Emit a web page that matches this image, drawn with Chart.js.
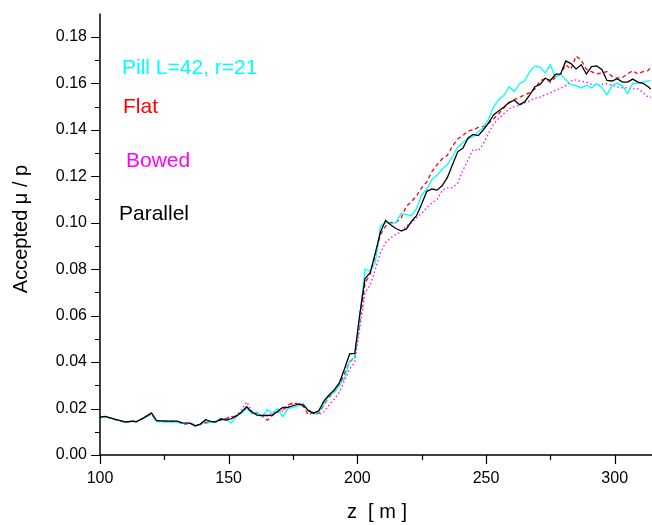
<!DOCTYPE html>
<html>
<head>
<meta charset="utf-8">
<script src="https://cdn.jsdelivr.net/npm/chart.js@4.4.1/dist/chart.umd.min.js"></script>
<style>
  html, body { margin: 0; padding: 0; background: #fff; }
  #wrap { width: 652px; height: 525px; }
</style>
</head>
<body>
<div id="wrap"><canvas id="chart"></canvas></div>
<script>
// z positions [m] shared by all four series
const zPos = [
  100, 102, 106, 110, 113, 114, 117, 120, 122, 126, 130, 132, 135, 137, 139, 141, 143, 145, 147, 149,
  151, 153, 155, 157, 159, 161, 163, 165, 167, 169, 171, 173, 175, 177, 179, 181, 183, 185, 187, 189,
  191, 193, 195, 197, 199, 201, 203, 205, 207, 209, 211, 213, 215, 217, 219, 221, 223, 225, 227, 229,
  231, 233, 235, 237, 239, 241, 243, 245, 247, 249, 251, 253, 255, 257, 259, 261, 263, 265, 267, 269,
  271, 273, 275, 277, 279, 281, 283, 285, 287, 289, 291, 293, 295, 297, 299, 301, 303, 305, 307, 309,
  311, 313, 314
];

const parallel = [
  .0163, .0166, .0153, .0142, .0146, .0143, .0160, .0181, .0148, .0146, .0146, .0138, .0137, .0125, .0133, .0152, .0145, .0142, .0155, .0150,
  .0156, .0168, .0185, .0208, .0185, .0172, .0170, .0170, .0172, .0188, .0205, .0205, .0212, .0219, .0215, .0191, .0180, .0190, .0232, .0258,
  .0280, .0310, .0370, .0435, .0437, .0610, .0760, .0785, .0870, .0960, .1010, .0990, .0975, .0965, .0972, .1005, .1030, .1080, .1135, .1145,
  .1140, .1160, .1195, .1250, .1305, .1320, .1365, .1380, .1375, .1400, .1430, .1465, .1482, .1498, .1518, .1527, .1508, .1520, .1550, .1585,
  .1595, .1622, .1612, .1638, .1640, .1696, .1685, .1662, .1680, .1640, .1672, .1675, .1660, .1612, .1610, .1620, .1605, .1605, .1618, .1605,
  .1600, .1585, .1575
];

const pill = [
  .0163, .0165, .0152, .0142, .0146, .0142, .0158, .0178, .0144, .0142, .0142, .0136, .0136, .0127, .0130, .0146, .0140, .0145, .0158, .0152,
  .0138, .0165, .0180, .0200, .0178, .0185, .0165, .0195, .0180, .0200, .0165, .0200, .0205, .0210, .0222, .0190, .0176, .0185, .0220, .0255,
  .0270, .0300, .0330, .0405, .0420, .0600, .0800, .0790, .0830, .0985, .1000, .0995, .1000, .1040, .1035, .1030, .1060, .1120, .1145, .1185,
  .1205, .1230, .1250, .1285, .1325, .1345, .1360, .1370, .1390, .1410, .1445, .1500, .1530, .1548, .1585, .1565, .1598, .1610, .1650, .1675,
  .1670, .1645, .1680, .1626, .1640, .1615, .1595, .1590, .1580, .1592, .1580, .1600, .1582, .1550, .1590, .1600, .1590, .1555, .1600, .1600,
  .1605, .1610, .1610
];

const flat = [
  .0163, .0165, .0152, .0141, .0147, .0143, .0160, .0176, .0146, .0145, .0145, .0133, .0135, .0130, .0132, .0138, .0140, .0145, .0150, .0158,
  .0160, .0170, .0180, .0205, .0180, .0180, .0168, .0150, .0170, .0185, .0195, .0215, .0225, .0218, .0210, .0172, .0185, .0180, .0215, .0250,
  .0270, .0300, .0350, .0400, .0420, .0580, .0740, .0780, .0860, .0950, .0985, .1000, .1000, .1020, .1070, .1090, .1115, .1150, .1176, .1220,
  .1250, .1275, .1290, .1330, .1360, .1375, .1395, .1400, .1410, .1415, .1428, .1447, .1470, .1495, .1515, .1530, .1540, .1550, .1560, .1575,
  .1610, .1620, .1605, .1626, .1640, .1680, .1660, .1717, .1700, .1660, .1650, .1640, .1645, .1650, .1630, .1622, .1625, .1640, .1654, .1640,
  .1650, .1655, .1668
];

const bowed = [
  .0163, .0165, .0153, .0142, .0146, .0143, .0158, .0178, .0146, .0145, .0145, .0137, .0136, .0128, .0131, .0140, .0143, .0144, .0152, .0160,
  .0165, .0170, .0195, .0228, .0190, .0175, .0170, .0172, .0178, .0185, .0190, .0205, .0220, .0225, .0215, .0195, .0180, .0175, .0185, .0215,
  .0240, .0270, .0320, .0370, .0400, .0550, .0700, .0730, .0800, .0870, .0915, .0935, .0950, .0960, .0985, .1000, .1020, .1040, .1065, .1085,
  .1100, .1140, .1150, .1150, .1170, .1225, .1270, .1316, .1310, .1340, .1385, .1425, .1450, .1470, .1490, .1500, .1505, .1515, .1525, .1535,
  .1540, .1550, .1560, .1570, .1578, .1590, .1610, .1615, .1608, .1605, .1595, .1590, .1595, .1598, .1592, .1585, .1580, .1580, .1576, .1576,
  .1560, .1540, .1540
];

const yTicksMajor = [0, 0.02, 0.04, 0.06, 0.08, 0.10, 0.12, 0.14, 0.16, 0.18];
const yTicksMinor = [0.01, 0.03, 0.05, 0.07, 0.09, 0.11, 0.13, 0.15, 0.17];
const xTicksMajor = [100, 150, 200, 250, 300];
const xTicksMinor = [125, 175, 225, 275];

const FONT = "'Liberation Sans', Arial, sans-serif";

function toPoints(values) {
  return values.map((v, i) => ({ x: zPos[i], y: v }));
}

// axis lines, tick marks, curve labels and axis titles
const decor = {
  id: "decor",
  afterDraw(chart) {
    const { ctx, chartArea: a, scales } = chart;
    const xs = scales.x, ys = scales.y;
    ctx.save();
    ctx.strokeStyle = "#000";
    ctx.lineWidth = 1.5;
    ctx.beginPath();
    ctx.moveTo(a.left, a.top);
    ctx.lineTo(a.left, a.bottom);
    ctx.lineTo(a.right, a.bottom);
    ctx.stroke();

    ctx.lineWidth = 1.2;
    ctx.beginPath();
    yTicksMajor.forEach((v) => {
      const y = Math.round(ys.getPixelForValue(v)) + 0.5;
      ctx.moveTo(a.left, y); ctx.lineTo(a.left - 9, y);
    });
    yTicksMinor.forEach((v) => {
      const y = Math.round(ys.getPixelForValue(v)) + 0.5;
      ctx.moveTo(a.left, y); ctx.lineTo(a.left - 5, y);
    });
    xTicksMajor.forEach((v) => {
      const x = Math.round(xs.getPixelForValue(v)) + 0.5;
      ctx.moveTo(x, a.bottom); ctx.lineTo(x, a.bottom + 9);
    });
    xTicksMinor.forEach((v) => {
      const x = Math.round(xs.getPixelForValue(v)) + 0.5;
      ctx.moveTo(x, a.bottom); ctx.lineTo(x, a.bottom + 5);
    });
    ctx.stroke();

    // curve labels
    ctx.font = "21px " + FONT;
    ctx.textBaseline = "alphabetic";
    ctx.textAlign = "left";
    const labels = [
      ["Pill L=42, r=21", "#00ffff", 22, 60],
      ["Flat", "#ff0000", 23, 99],
      ["Bowed", "#ff00ff", 26, 153],
      ["Parallel", "#000000", 19, 206],
    ];
    labels.forEach(([t, c, dx, dy]) => {
      ctx.fillStyle = c;
      ctx.fillText(t, a.left + dx, a.top + dy);
    });

    // axis titles
    ctx.fillStyle = "#000";
    ctx.font = "20px " + FONT;
    ctx.textAlign = "center";
    ctx.fillText("z  [ m ]", (a.left + a.right) / 2 + 1, 518);
    ctx.save();
    ctx.translate(27, 229);
    ctx.rotate(-Math.PI / 2);
    ctx.fillText("Accepted \u03bc / p", 0, 0);
    ctx.restore();
    ctx.restore();
  },
};

new Chart(document.getElementById("chart"), {
  type: "line",
  data: {
    datasets: [
      { label: "Parallel", data: toPoints(parallel), borderColor: "#000000", borderWidth: 1.3 },
      { label: "Pill L=42, r=21", data: toPoints(pill), borderColor: "#00ffff", borderWidth: 1.3 },
      { label: "Flat", data: toPoints(flat), borderColor: "#ff0000", borderWidth: 1.3, borderDash: [4, 3] },
      { label: "Bowed", data: toPoints(bowed), borderColor: "#ff00ff", borderWidth: 1.3, borderDash: [1.5, 2.5] },
    ],
  },
  options: {
    responsive: true,
    maintainAspectRatio: false,
    animation: false,
    layout: { padding: { top: 5, right: 0, left: 0, bottom: 0 } },
    elements: { point: { radius: 0 }, line: { tension: 0, fill: false } },
    plugins: { legend: { display: false }, tooltip: { enabled: false } },
    scales: {
      x: {
        type: "linear",
        min: 100,
        max: 314.5,
        grid: { display: false, drawTicks: true, tickLength: 9 },
        border: { display: false },
        ticks: {
          stepSize: 50,
          includeBounds: false,
          color: "#000",
          padding: 5,
          maxRotation: 0,
          font: { family: FONT, size: 16 },
        },
        afterFit(scale) { scale.height = 70; },
      },
      y: {
        min: 0,
        max: 0.19,
        grid: { display: false, drawTicks: true, tickLength: 9 },
        border: { display: false },
        ticks: {
          stepSize: 0.02,
          includeBounds: false,
          color: "#000",
          padding: 4,
          font: { family: FONT, size: 16 },
          callback: (v) => v.toFixed(2),
        },
        afterFit(scale) { scale.width = 100; },
      },
    },
  },
  plugins: [decor],
});
</script>
</body>
</html>
